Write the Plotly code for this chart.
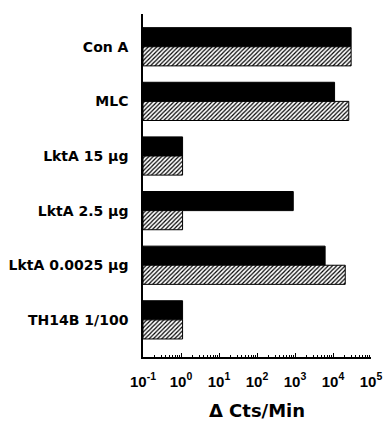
import plotly.graph_objects as go

categories = ["Con A", "MLC", "LktA 15 µg", "LktA 2.5 µg", "LktA 0.0025 µg", "TH14B 1/100"]
solid_values = [30000, 11000, 1, 900, 6200, 1]
hatched_values = [30000, 26000, 1, 1, 21000, 1]
tick_vals = [0.1, 1, 10, 100, 1000, 10000, 100000]
tick_text = ["10<sup>-1</sup>", "10<sup>0</sup>", "10<sup>1</sup>", "10<sup>2</sup>",
             "10<sup>3</sup>", "10<sup>4</sup>", "10<sup>5</sup>"]

font_family = "Liberation Sans, Arial, sans-serif"
wide_family = "DejaVu Sans, Liberation Sans, sans-serif"

fig = go.Figure()
fig.add_trace(go.Bar(
    y=categories, x=solid_values, orientation="h", base=0.1,
    marker=dict(color="black", line=dict(color="black", width=1)),
    showlegend=False,
))
fig.add_trace(go.Bar(
    y=categories, x=hatched_values, orientation="h", base=0.1,
    marker=dict(color="white", line=dict(color="black", width=1),
                pattern=dict(shape="/", fgcolor="black", bgcolor="white",
                             size=3, solidity=0.4, fillmode="replace")),
    showlegend=False,
))

fig.update_layout(
    width=385, height=421,
    margin=dict(l=143, r=14, t=14, b=64),
    paper_bgcolor="white", plot_bgcolor="white",
    barmode="group", bargap=0.3, bargroupgap=0,
    font=dict(family=font_family, color="black"),
    xaxis=dict(
        type="log", range=[-1, 5.0], automargin=False,
        showline=True, linecolor="black", linewidth=1.5,
        showgrid=False, zeroline=False,
        tickvals=tick_vals, ticktext=tick_text,
        ticks="inside", ticklen=4, tickcolor="black",
        minor=dict(ticks="inside", ticklen=2, tickcolor="black", dtick="D1", showgrid=False),
        tickfont=dict(size=15, family=font_family, weight="bold"),
        ticklabelstandoff=10,
        title=dict(text="Δ Cts/Min", font=dict(size=18, family=wide_family, weight="bold"), standoff=16),
    ),
    yaxis=dict(
        type="category", range=[5.68, -0.6], automargin=False,
        showline=True, linecolor="black", linewidth=1.5,
        showgrid=False, zeroline=False, ticks="",
        tickfont=dict(size=14, family=wide_family, weight="bold"),
        ticklabelstandoff=10,
    ),
)

fig.write_html("out.html")
